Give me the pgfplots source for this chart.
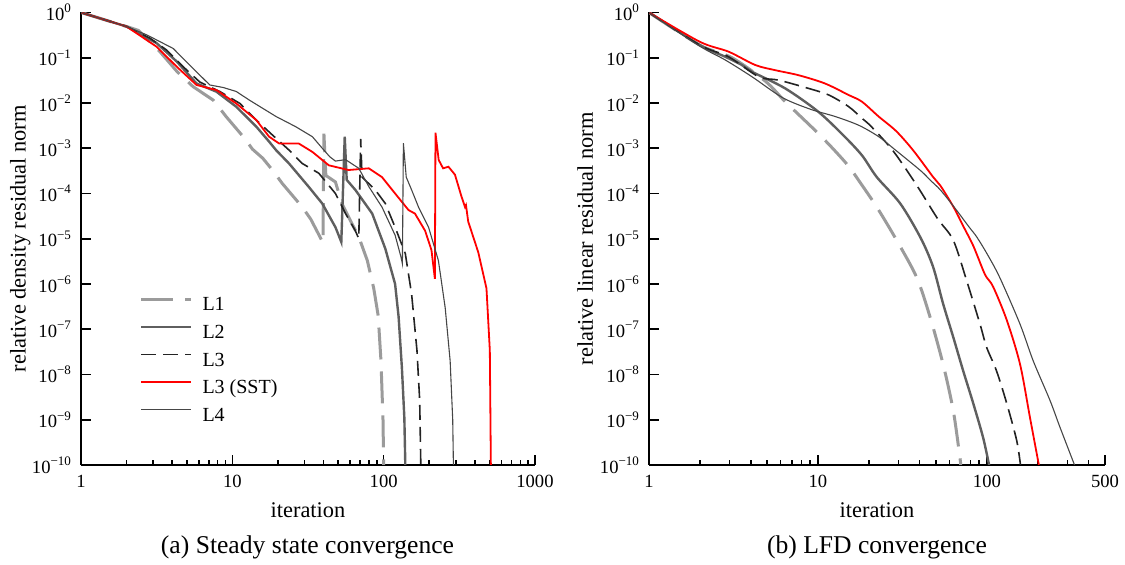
\documentclass[border=0pt]{standalone}
\usepackage{pgfplots}
\pgfplotsset{compat=1.18}
\usepackage{fontspec}
\setmainfont{Liberation Serif}

\definecolor{cLone}{RGB}{155,155,155}
\definecolor{cLtwo}{RGB}{95,95,95}
\definecolor{cLthree}{RGB}{35,35,35}
\definecolor{cRed}{RGB}{255,0,0}
\definecolor{cLfour}{RGB}{70,70,70}

\tikzset{
  lone/.style={draw=cLone, line width=1.5pt, dash pattern=on 16pt off 6pt},
  ltwo/.style={draw=cLtwo, line width=1.2pt},
  lthree/.style={draw=cLthree, line width=0.8pt, dash pattern=on 7.5pt off 3.5pt},
  lsst/.style={draw=cRed, line width=0.9pt},
  lfour/.style={draw=cLfour, line width=0.55pt},
}
\newcommand{\lstrut}{\rule[-2pt]{0pt}{9pt}}

\pgfplotsset{
  every axis/.append style={
    scale only axis, height=226.25pt,
    ymin=1e-10, ymax=1,
    axis lines=left, axis line style={-, line width=1pt, black},
    tick align=inside,
    major tick length=5pt, minor tick length=2.5pt,
    every tick/.append style={black, line width=0.8pt},
    ytick={1e-10,1e-9,1e-8,1e-7,1e-6,1e-5,1e-4,1e-3,1e-2,1e-1,1},
    yticklabels={10\textsuperscript{−10},10\textsuperscript{−9},10\textsuperscript{−8},10\textsuperscript{−7},10\textsuperscript{−6},10\textsuperscript{−5},10\textsuperscript{−4},10\textsuperscript{−3},10\textsuperscript{−2},10\textsuperscript{−1},10\textsuperscript{0}},
    yminorticks=false,
    tick label style={font=\fontsize{9.3}{11}\selectfont},
    xticklabel style={yshift=-1.5pt},
    yticklabel style={xshift=-1pt},
    label style={font=\fontsize{11.2}{13}\selectfont},
    xlabel={iteration},
    xlabel style={at={(axis description cs:0.5,-0.1)}, anchor=center},
  },
}

\begin{document}
\begin{tikzpicture}
\useasboundingbox (0,0) rectangle (562.5pt,282.5pt);

\begin{loglogaxis}[at={(40.5pt,50pt)}, anchor=south west, width=227pt,
  xmin=1, xmax=1000,
  xtick={1,10,100,1000}, xticklabels={1,10,100,1000},
  minor xtick={2,3,4,5,6,7,8,9,20,30,40,50,60,70,80,90,200,300,400,500,600,700,800,900},
  ylabel={relative density residual norm},
  ylabel style={at={(axis description cs:-0.134,0.5)}, anchor=center},
  legend cell align=left,
  legend style={draw=none, fill=none, at={(axis description cs:0.128,0.087)}, anchor=south west,
    inner sep=0pt, row sep=4.3pt, column sep=4.5pt,
    nodes={inner sep=0.5pt, font=\fontsize{10}{12}\selectfont}},
]
\addlegendimage{legend image code/.code={\draw[cLone, line width=1.5pt, dash pattern=on 16pt off 6pt] (0pt,3pt) -- (25pt,3pt);}}
\addlegendentry{\lstrut L1}
\addlegendimage{legend image code/.code={\draw[cLtwo, line width=1.2pt] (0pt,3pt) -- (25pt,3pt);}}
\addlegendentry{\lstrut L2}
\addlegendimage{legend image code/.code={\draw[cLthree, line width=0.8pt, dash pattern=on 7.5pt off 3.5pt] (0pt,3pt) -- (25pt,3pt);}}
\addlegendentry{\lstrut L3}
\addlegendimage{legend image code/.code={\draw[cRed, line width=0.9pt] (0pt,3pt) -- (25pt,3pt);}}
\addlegendentry{\lstrut L3 (SST)}
\addlegendimage{legend image code/.code={\draw[cLfour, line width=0.55pt] (0pt,3pt) -- (25pt,3pt);}}
\addlegendentry{\lstrut L4}
\addplot[lone, forget plot] coordinates {(1,1) (2,0.49) (2.4,0.4) (3.3,0.14) (4.3,0.05) (5.5,0.023) (7.5,0.0115) (9.1,0.005) (11.8,0.0018) (13.6,9.5e-4) (15.9,6e-4) (18.4,3.3e-4) (21.4,1.66e-4) (29,5e-5) (33,2.7e-5) (38.5,1e-5) (39.7,8e-6) (40.3,2.1e-3) (41.5,2.5e-4) (48,1.8e-4) (53,6e-5) (60,2.6e-5) (68.5,1.1e-5) (78,3.3e-6) (86,8e-7) (92,2e-7) (96,2e-8) (99,1e-9) (100,1e-10)};
\addplot[ltwo, forget plot] coordinates {(1,1) (2,0.49) (3.16,0.21) (4.3,0.082) (5.8,0.027) (7.85,0.0178) (10.6,0.0083) (14.4,0.003) (17.5,1.4e-3) (19.5,9e-4) (23.7,4.6e-4) (32,1.4e-4) (39.3,6e-5) (48,1.8e-5) (52.5,8.5e-6) (55.3,1.8e-3) (57,2e-4) (65,1.2e-4) (84,3.6e-5) (102.6,6e-6) (119,1e-6) (125.5,1.9e-7) (132,1.4e-8) (137,1.1e-9) (139,1e-10)};
\addplot[lthree, forget plot] coordinates {(1,1) (2,0.49) (2.86,0.27) (3.68,0.148) (4.74,0.063) (6.1,0.029) (8.3,0.0178) (11.2,0.0098) (14.4,0.0042) (18,0.0021) (23.7,9.1e-4) (29,4.6e-4) (37.3,2.8e-4) (48,1e-4) (56,3.6e-5) (65,1.5e-5) (68.5,1e-5) (70.5,1.6e-3) (72,2.3e-4) (88,1.2e-4) (102.6,6e-5) (119,1.8e-5) (139,4.7e-6) (153,6e-7) (166,3.4e-8) (173,2.7e-9) (176,1e-10)};
\addplot[lsst, forget plot] coordinates {(1,1) (2,0.49) (3.16,0.175) (4.3,0.063) (5.8,0.025) (7.85,0.0193) (10.6,0.0098) (14.4,0.0042) (17.5,1.8e-3) (20.4,1.27e-3) (27.5,1.27e-3) (33.8,8.3e-4) (43.4,4.2e-4) (58.6,3.3e-4) (79.7,3.6e-4) (97.5,2.3e-4) (119,1e-4) (146,4.3e-5) (161,3.6e-5) (188,1.5e-5) (207,5.6e-6) (218,1.3e-6) (220,2.2e-3) (231,5.5e-4) (247,3.6e-4) (268,3.9e-4) (296,2.6e-4) (327,8.5e-5) (345,5e-5) (350,5.5e-5) (362,2.4e-5) (422,5e-6) (478,8e-7) (503,3.4e-8) (511,1e-10)};
\addplot[lfour, forget plot] coordinates {(1,1) (2,0.49) (2.72,0.32) (4.07,0.16) (5.5,0.058) (7.1,0.025) (8.7,0.022) (10.6,0.018) (13,0.0115) (19.5,0.005) (26.2,0.003) (33.8,0.0018) (39.3,0.001) (44,6.5e-4) (48,5.2e-4) (56,5.6e-4) (68.5,3.6e-4) (80,1.4e-4) (97.5,5e-5) (119,1.2e-5) (130,4e-6) (133,2.8e-6) (135,1.3e-3) (141,2.3e-4) (153,1.2e-4) (170,5e-5) (198,1.8e-5) (230,3.3e-6) (255,3e-7) (275,2e-8) (286,1e-9) (289,1e-10)};
\end{loglogaxis}

\begin{loglogaxis}[at={(324.5pt,50pt)}, anchor=south west, width=228pt,
  xmin=1, xmax=500,
  xtick={1,10,100,500}, xticklabels={1,10,100,500},
  minor xtick={2,3,4,5,6,7,8,9,20,30,40,50,60,70,80,90,200,300,400},
  ylabel={relative linear residual norm},
  ylabel style={at={(axis description cs:-0.14,0.5)}, anchor=center},
]
\addplot[lone, smooth, tension=0.5] coordinates {(1,1) (2,0.19) (3.1,0.1) (4.9,0.03) (6.4,0.0107) (9.6,0.0025) (12.2,0.001) (15.2,4e-4) (17.5,1.9e-4) (22.3,5e-5) (29.2,9.3e-6) (38.4,1.4e-6) (46,1.9e-7) (55,1.7e-8) (63.2,1.6e-9) (69,1.6e-10) (70,1e-10)};
\addplot[ltwo, smooth, tension=0.5] coordinates {(1,1) (2,0.19) (2.83,0.105) (3.55,0.069) (4.07,0.049) (6.4,0.021) (10,0.0065) (14,0.002) (18.2,7e-4) (22.3,2.3e-4) (30.7,6e-5) (40.5,1.05e-5) (48,2.4e-6) (55,3.7e-7) (63.2,6.7e-8) (72.4,1.2e-8) (83,2.3e-9) (95,4e-10) (103,1e-10)};
\addplot[lthree, smooth, tension=0.5] coordinates {(1,1) (2,0.19) (2.96,0.105) (4.46,0.038) (5.85,0.032) (8.8,0.021) (11.6,0.015) (15.2,0.0083) (18.2,0.0046) (20.7,0.003) (28,8.5e-4) (38.5,1.5e-4) (51,2.8e-5) (63.2,9.3e-6) (75.8,1.2e-6) (91,1.3e-7) (99.6,4e-8) (114,1.2e-8) (131,2.3e-9) (150,3.5e-10) (158,1e-10)};
\addplot[lsst, smooth, tension=0.5] coordinates {(1,1) (2,0.225) (2.96,0.136) (4.26,0.069) (5.6,0.053) (7.7,0.041) (11,0.027) (15.2,0.015) (18.2,0.0107) (22.9,0.005) (29,0.0024) (36.6,9e-4) (48.1,2.3e-4) (53,1.5e-4) (63.5,5e-5) (73,1.8e-5) (83,7e-6) (95,2e-6) (99.6,1.4e-6) (109,8.6e-7) (131,1.6e-7) (157,1.7e-8) (180,1.1e-9) (203,1e-10)};
\addplot[lfour, smooth, tension=0.5] coordinates {(1,1) (2,0.18) (2.83,0.089) (4.07,0.038) (6.2,0.013) (9.1,0.0072) (12.7,0.005) (17.5,0.0032) (22.9,0.0018) (27.9,0.001) (40.5,3.2e-4) (46,2e-4) (53,1.2e-4) (64,5e-5) (78.6,1.8e-5) (87,1.1e-5) (100,4.7e-6) (119,1.4e-6) (157,1.3e-7) (188,2e-8) (236,2.7e-9) (270,7e-10) (330,1e-10)};
\end{loglogaxis}

\node[font=\fontsize{12.8}{15}\selectfont] at (153.75pt,9pt) {(a) Steady state convergence};
\node[font=\fontsize{12.8}{15}\selectfont] at (438.5pt,9pt) {(b) LFD convergence};
\end{tikzpicture}
\end{document}
